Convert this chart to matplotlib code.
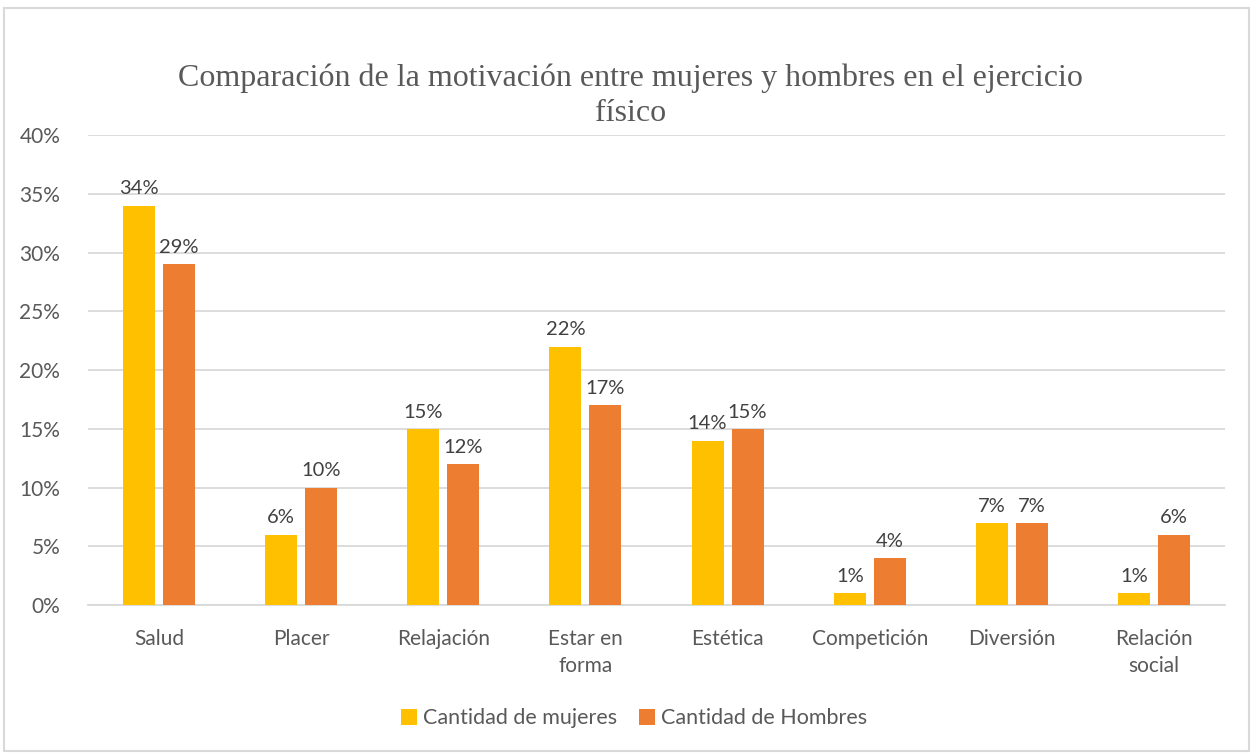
import matplotlib.pyplot as plt
import numpy as np
from matplotlib.patches import Rectangle

categorias = ["Salud", "Placer", "Relajación", "Estar en\nforma", "Estética",
              "Competición", "Diversión", "Relación\nsocial"]
mujeres = [34, 6, 15, 22, 14, 1, 7, 1]
hombres = [29, 10, 12, 17, 15, 4, 7, 6]

plt.rcParams['font.family'] = ['Lato', 'DejaVu Sans']
gris = '#595959'

fig = plt.figure(figsize=(12.53, 7.53), dpi=100)
ax = fig.add_axes([0.0702, 0.1965, 0.9075, 0.6242])

x = np.arange(len(categorias))
w = 0.225
b1 = ax.bar(x - w / 2 - 0.028, mujeres, w, color='#FFC000', label='Cantidad de mujeres', zorder=3)
b2 = ax.bar(x + w / 2 + 0.028, hombres, w, color='#ED7D31', label='Cantidad de Hombres', zorder=3)

for bars, vals in ((b1, mujeres), (b2, hombres)):
    for r, v in zip(bars, vals):
        ax.text(r.get_x() + r.get_width() / 2, v + 0.7, f"{v}%", ha='center', va='bottom',
                fontsize=14.5, color='#404040')

ax.set_xlim(-0.5, len(categorias) - 0.5)
ax.set_ylim(0, 40)
ax.set_yticks(range(0, 41, 5))
ax.set_yticklabels([f"{v}%" for v in range(0, 41, 5)])
ax.set_xticks(x)
ax.set_xticklabels(categorias, linespacing=1.45, va='top')
ax.tick_params(axis='both', length=0, labelsize=15, labelcolor=gris)
ax.tick_params(axis='x', pad=17)
ax.tick_params(axis='y', pad=20)
ax.yaxis.grid(True, color='#D9D9D9', linewidth=1.3, zorder=0)
for s in ['top', 'right', 'left']:
    ax.spines[s].set_visible(False)
ax.spines['bottom'].set_color('#D9D9D9')
ax.spines['bottom'].set_linewidth(1.3)

fig.text(0.503, 0.873, "Comparación de la motivación entre mujeres y hombres en el ejercicio\nfísico",
         ha='center', va='center', fontsize=23, color=gris, family='Liberation Serif',
         linespacing=1.3)

fig.legend(loc='center', bbox_to_anchor=(0.506, 0.046), ncol=2, frameon=False,
           fontsize=15.5, handlelength=0.75, handleheight=0.75, handletextpad=0.3,
           columnspacing=1.0, labelcolor=gris)

fig.patches.append(Rectangle((0.003, 0.003), 0.994, 0.986, transform=fig.transFigure,
                             fill=False, edgecolor='#D9D9D9', linewidth=1.5))

fig.savefig('out.png', dpi=100)
